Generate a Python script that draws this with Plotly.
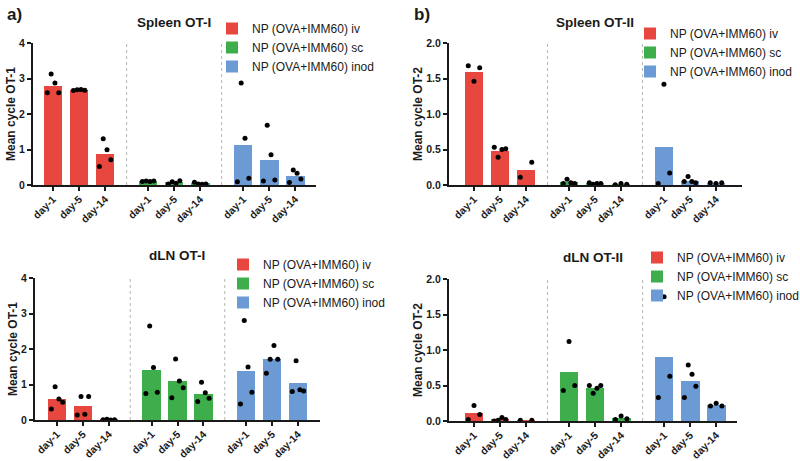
import plotly.graph_objects as go
import numpy as np

# ---------------- data ----------------
days = ["day-1", "day-5", "day-14"]
groups = ["NP (OVA+IMM60) iv", "NP (OVA+IMM60) sc", "NP (OVA+IMM60) inod"]
colors = ["#E8473F", "#3DAE4B", "#6C9AD4"]

# Spleen OT-I (Mean cycle OT-1): per group, per day -> individual points
spleen_ot1_iv = [[2.60, 3.13, 2.87, 2.60], [2.66, 2.68, 2.69, 2.67], [0.52, 1.30, 0.99, 0.71]]
spleen_ot1_sc = [[0.10, 0.11, 0.10, 0.11], [0.03, 0.09, 0.05, 0.12], [0.08, 0.03, 0.02, 0.03]]
spleen_ot1_inod = [[0.09, 2.87, 1.32, 0.19], [0.11, 1.68, 0.85, 0.14], [0.07, 0.42, 0.33, 0.17]]

# Spleen OT-II (Mean cycle OT-2)
spleen_ot2_iv = [[1.68, 1.46, 1.65], [0.53, 0.39, 0.50, 0.51], [0.11, 0.32]]
spleen_ot2_sc = [[0.02, 0.08, 0.03, 0.02], [0.03, 0.01, 0.02, 0.02], [0.005, 0.02, 0.01]]
spleen_ot2_inod = [[0.02, 1.42, 0.17], [0.05, 0.12, 0.05, 0.03], [0.03, 0.02, 0.03]]

# dLN OT-I (Mean cycle OT-1)
dln_ot1_iv = [[0.31, 0.94, 0.59, 0.50], [0.14, 0.66, 0.16, 0.66], [0.01, 0.02, 0.00, 0.01]]
dln_ot1_sc = [[0.75, 2.65, 1.48, 0.78], [0.63, 1.72, 1.10, 0.91], [0.52, 1.06, 0.77, 0.61]]
dln_ot1_inod = [[0.45, 2.80, 1.49, 0.78], [1.32, 1.71, 2.10, 1.71], [0.80, 1.67, 0.85, 0.82]]

# dLN OT-II (Mean cycle OT-2)
dln_ot2_iv = [[0.02, 0.22, 0.09], [0.00, 0.01, 0.05, 0.02], [0.01, 0.01]]
dln_ot2_sc = [[0.43, 1.12, 0.50], [0.50, 0.39, 0.46, 0.50], [0.02, 0.07, 0.03]]
dln_ot2_inod = [[0.33, 1.75, 0.63], [0.33, 0.79, 0.66, 0.49], [0.21, 0.25, 0.21]]

panel_titles = ["Spleen OT-I", "Spleen OT-II", "dLN OT-I", "dLN OT-II"]
y_titles = ["Mean cycle OT-1", "Mean cycle OT-2", "Mean cycle OT-1", "Mean cycle OT-2"]
y_max = [4, 2, 4, 2]
y_dtick = [1, 0.5, 1, 0.5]
y_fmt = ["d", ".1f", "d", ".1f"]
panel_data = [
    [spleen_ot1_iv, spleen_ot1_sc, spleen_ot1_inod],
    [spleen_ot2_iv, spleen_ot2_sc, spleen_ot2_inod],
    [dln_ot1_iv, dln_ot1_sc, dln_ot1_inod],
    [dln_ot2_iv, dln_ot2_sc, dln_ot2_inod],
]

# ---------------- layout geometry (pixels) ----------------
W, H = 800, 461
GAP = 3.65
x_px = [(33, 316), (449, 742), (35, 320), (449, 737)]
y_px = [(43, 185), (43, 185), (278, 420), (279, 421)]
x_rng = [(-0.77, 10.1), (-0.96, 10.3), (-0.85, 10.15), (-0.96, 10.1)]
title_px = [(174, 22), (595, 22), (177, 255), (593, 257)]
# legend: (text start x, first-row centre y) in pixels
legend_px = [(252, 27), (670, 32), (263, 263), (677, 256)]

FONT = "Liberation Sans, Arial, sans-serif"
TICK_FONT = dict(size=10.5, weight="bold", family=FONT, color="#1a1a1a")

fig = go.Figure()
layout = dict(
    width=W, height=H, margin=dict(l=0, r=0, t=0, b=0, autoexpand=False),
    plot_bgcolor="white", paper_bgcolor="white",
    font=dict(family=FONT, color="#1a1a1a"),
    bargap=0, showlegend=True,
)
shapes, annotations = [], []

positions = [gi * GAP + d for gi in range(3) for d in range(3)]

for pi in range(4):
    sfx = "" if pi == 0 else str(pi + 1)
    xa, ya = "x" + sfx, "y" + sfx
    leg = "legend" if pi == 0 else "legend" + str(pi + 1)
    px_x, px_y = [], []
    for gi, (g, col, vals) in enumerate(zip(groups, colors, panel_data[pi])):
        xs = [gi * GAP + d for d in range(3)]
        means = [float(np.mean(v)) for v in vals]
        fig.add_trace(go.Bar(
            x=xs, y=means, name=g, marker=dict(color=col, line=dict(width=0)),
            width=0.72, xaxis=xa, yaxis=ya, legend=leg, showlegend=True,
            hoverinfo="skip",
        ))
        for d, v in enumerate(vals):
            n = len(v)
            offs = np.linspace(-0.22, 0.22, n) if n > 1 else [0.0]
            for o, val in zip(offs, v):
                px_x.append(xs[d] + o)
                px_y.append(val)
    fig.add_trace(go.Scatter(
        x=px_x, y=px_y, mode="markers", xaxis=xa, yaxis=ya,
        marker=dict(color="black", size=5), showlegend=False, hoverinfo="skip",
    ))

    x0, x1 = x_px[pi]
    yt, yb = y_px[pi]
    layout["xaxis" + sfx] = dict(
        domain=[x0 / W, x1 / W], anchor=ya, range=list(x_rng[pi]), automargin=False,
        tickmode="array", tickvals=positions, ticktext=days * 3, tickangle=-45,
        ticks="outside", ticklen=4, tickwidth=1.5, tickcolor="#1a1a1a",
        ticklabelstandoff=-2,
        showline=True, linecolor="#1a1a1a", linewidth=2,
        showgrid=False, zeroline=False, tickfont=TICK_FONT,
    )
    layout["yaxis" + sfx] = dict(
        domain=[1 - yb / H, 1 - yt / H], anchor=xa, range=[0, y_max[pi]], automargin=False,
        dtick=y_dtick[pi], tickformat=y_fmt[pi],
        ticks="outside", ticklen=4, tickwidth=1.5, tickcolor="#1a1a1a",
        showline=True, linecolor="#1a1a1a", linewidth=2,
        showgrid=False, zeroline=False, tickfont=TICK_FONT,
        title=dict(text=y_titles[pi], font=dict(size=12, weight="bold", family=FONT), standoff=1),
    )
    for sep in [(2 + GAP) / 2, GAP + (2 + GAP) / 2]:
        shapes.append(dict(type="line", xref=xa, yref=ya, x0=sep, x1=sep, y0=0, y1=y_max[pi],
                           line=dict(color="#b5b5b5", width=1, dash="dot"), layer="below"))
    tx, ty = title_px[pi]
    annotations.append(dict(text=panel_titles[pi], x=tx / W, y=1 - ty / H, xref="paper", yref="paper",
                            showarrow=False, xanchor="center", yanchor="middle",
                            font=dict(size=13.5, weight="bold", family=FONT)))
    lx, ly = legend_px[pi]
    layout[leg] = dict(x=(lx - 40) / W, y=1 - (ly - 13) / H, xanchor="left", yanchor="top",
                       bgcolor="rgba(0,0,0,0)", font=dict(size=12, family=FONT),
                       tracegroupgap=0, itemclick=False, itemdoubleclick=False)

annotations.append(dict(text="a)", x=5 / W, y=1 - 14 / H, xref="paper", yref="paper", showarrow=False,
                        xanchor="left", yanchor="middle", font=dict(size=17, weight="bold", family=FONT)))
annotations.append(dict(text="b)", x=412 / W, y=1 - 14 / H, xref="paper", yref="paper", showarrow=False,
                        xanchor="left", yanchor="middle", font=dict(size=17, weight="bold", family=FONT)))

layout["shapes"] = shapes
layout["annotations"] = annotations
fig.update_layout(**layout)
fig.write_html("out.html", config={"displayModeBar": False},
               post_script="document.body.style.margin='0';document.body.style.overflow='hidden';")
